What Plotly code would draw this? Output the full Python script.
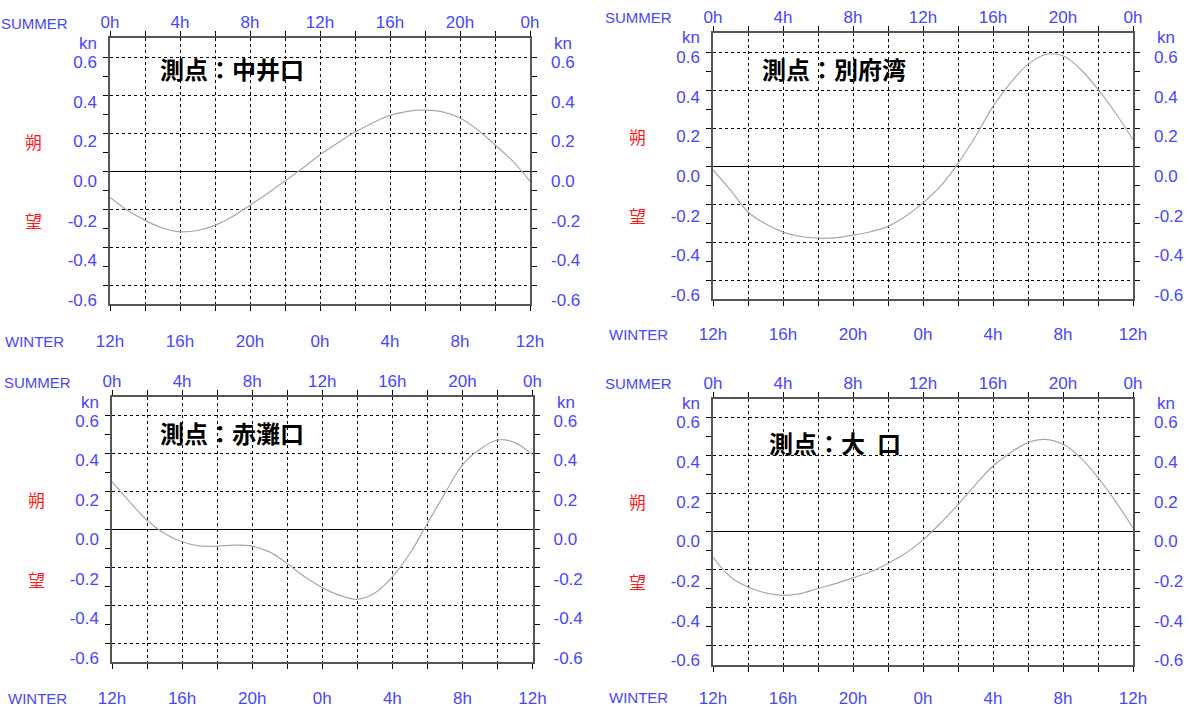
import plotly.graph_objects as go

W, H = 1189, 711

# Hourly current speed (kn), hour 0 = SUMMER 0h / WINTER 12h
hours = list(range(25))
nakaiguchi = [-0.14, -0.207, -0.26, -0.30, -0.32, -0.313, -0.286, -0.24, -0.18,
              -0.118, -0.053, 0.014, 0.085, 0.147, 0.205, 0.253, 0.293, 0.314,
              0.32, 0.311, 0.279, 0.217, 0.138, 0.053, -0.053]
beppuwan = [-0.021, -0.127, -0.242, -0.304, -0.348, -0.371, -0.38, -0.378, -0.364,
            -0.346, -0.318, -0.265, -0.194, -0.106, 0.014, 0.155, 0.314, 0.438,
            0.535, 0.587, 0.58, 0.509, 0.403, 0.279, 0.138]
akanadaguchi = [0.253, 0.147, 0.049, -0.021, -0.065, -0.087, -0.088, -0.083, -0.088,
                -0.118, -0.18, -0.25, -0.307, -0.348, -0.369, -0.336, -0.25, -0.127,
                0.032, 0.191, 0.341, 0.424, 0.473, 0.459, 0.394]
oguchi = [-0.136, -0.239, -0.292, -0.323, -0.336, -0.327, -0.30, -0.274, -0.244,
          -0.212, -0.168, -0.115, -0.044, 0.044, 0.141, 0.247, 0.345, 0.415,
          0.468, 0.485, 0.459, 0.389, 0.283, 0.159, 0.018]

station_names = ["測点：中井口", "測点：別府湾", "測点：赤灘口", "測点：大\u2002口"]

hour_grid = list(range(0, 25, 2))
summer_ticks = ["0h", "", "4h", "", "8h", "", "12h", "", "16h", "", "20h", "", "0h"]
winter_ticks = ["12h", "", "16h", "", "20h", "", "0h", "", "4h", "", "8h", "", "12h"]
speed_ticks = [-0.6, -0.4, -0.2, 0.0, 0.2, 0.4, 0.6]
speed_minor = [-0.5, -0.3, -0.1, 0.1, 0.3, 0.5]
speed_labels = [f"{v:.1f}" for v in speed_ticks]

BLUE = "#4646ff"
RED = "#ff1a1a"
LATIN = "Liberation Sans, Arial, sans-serif"
NARROW = "Liberation Sans Narrow, Liberation Sans, sans-serif"
CJK = "Noto Sans CJK JP, sans-serif"

# label axis spans a slightly different range so the numbers sit where the
# chart prints them (a little below each grid line)
LABEL_RANGE = [-0.620, 0.721]

# plot boxes in pixels: left, right, top, bottom ; title offset from box corner ;
# distance from bottom edge to the WINTER hour row
panels = [
    dict(series=nakaiguchi, box=(110, 530, 38, 304), title=(47.7, 30.5), gap=37),
    dict(series=beppuwan, box=(713, 1133, 33, 299), title=(46.7, 35.5), gap=35),
    dict(series=akanadaguchi, box=(112, 532.5, 397, 662), title=(45.7, 35.5), gap=36),
    dict(series=oguchi, box=(713, 1133, 398.5, 664.5), title=(54, 44), gap=33),
]


def aid(letter, n):
    return letter if n == 1 else f"{letter}{n}"


def akey(letter, n):
    return f"{letter}axis" if n == 1 else f"{letter}axis{n}"


fig = go.Figure()
layout = dict(
    width=W, height=H, autosize=False,
    margin=dict(l=0, r=0, t=0, b=0, autoexpand=False),
    paper_bgcolor="white", plot_bgcolor="white",
    showlegend=False,
)
annotations = []

for i, (p, name) in enumerate(zip(panels, station_names)):
    l, r, t, b = p["box"]
    nx_main, nx_top = 2 * i + 1, 2 * i + 2
    ny_main, ny_left, ny_right = 3 * i + 1, 3 * i + 2, 3 * i + 3
    xm, xt = aid("x", nx_main), aid("x", nx_top)
    ym, yl, yr = aid("y", ny_main), aid("y", ny_left), aid("y", ny_right)

    tickfont = dict(family=LATIN, size=17, color=BLUE)

    layout[akey("x", nx_main)] = dict(
        domain=[l / W, r / W], anchor=ym, range=[0, 24],
        tickmode="array", tickvals=hour_grid, ticktext=winter_ticks,
        ticks="outside", ticklen=5, tickcolor="#000", tickwidth=1,
        showline=True, linecolor="#555", linewidth=2,
        showgrid=True, gridcolor="#000", gridwidth=1, griddash="3px,3px",
        zeroline=False, tickfont=tickfont, ticklabelstandoff=p["gap"] - 21,
        automargin=False, fixedrange=True,
    )
    layout[akey("x", nx_top)] = dict(
        overlaying=xm, anchor=ym, side="top", range=[0, 24],
        tickmode="array", tickvals=hour_grid, ticktext=summer_ticks,
        ticks="outside", ticklen=5, tickcolor="#000", tickwidth=1,
        showline=True, linecolor="#555", linewidth=2,
        showgrid=False, zeroline=False, tickfont=tickfont,
        ticklabelstandoff=-4, automargin=False, fixedrange=True,
    )
    layout[akey("y", ny_main)] = dict(
        domain=[1 - b / H, 1 - t / H], anchor=xm, range=[-0.7, 0.7],
        tickmode="array", tickvals=speed_ticks, showticklabels=False,
        ticks="outside", ticklen=5, tickcolor="#000", tickwidth=1,
        mirror="allticks",
        showline=True, linecolor="#555", linewidth=2,
        showgrid=True, gridcolor="#000", gridwidth=1, griddash="3px,3px",
        zeroline=True, zerolinecolor="#000", zerolinewidth=1,
        minor=dict(tickvals=speed_minor, ticks="outside", ticklen=5,
                   tickcolor="#000", tickwidth=1, showgrid=False),
        automargin=False, fixedrange=True,
    )
    for key, side, standoff in ((ny_left, "left", 12), (ny_right, "right", 20)):
        layout[akey("y", key)] = dict(
            overlaying=ym, anchor=xm, side=side, range=LABEL_RANGE,
            tickmode="array", tickvals=speed_ticks, ticktext=speed_labels,
            ticks="", showline=False, showgrid=False, zeroline=False,
            tickfont=tickfont, ticklabelstandoff=standoff,
            automargin=False, fixedrange=True,
        )

    fig.add_trace(go.Scatter(
        x=hours, y=p["series"], xaxis=xm, yaxis=ym, mode="lines",
        line=dict(color="#a8a8a8", width=1.2, shape="spline", smoothing=1.0),
        hoverinfo="skip",
    ))
    for xa, ya in ((xt, ym), (xm, yl), (xm, yr)):
        fig.add_trace(go.Scatter(x=[], y=[], xaxis=xa, yaxis=ya,
                                 mode="lines", hoverinfo="skip"))

    xd, yd = f"{xm} domain", f"{ym} domain"

    def note(text, x, y, xs, ys, font, xref=xd, yref=yd, xanchor="center"):
        annotations.append(dict(
            text=text, x=x, y=y, xref=xref, yref=yref, xshift=xs, yshift=ys,
            showarrow=False, xanchor=xanchor, yanchor="middle", font=font,
        ))

    note("SUMMER", 0, 1, -75, 15, dict(family=NARROW, size=15, color=BLUE))
    note("WINTER", 0, 0, -75, -p["gap"], dict(family=NARROW, size=15, color=BLUE))
    note("kn", 0, 1, -22, -5, dict(family=LATIN, size=17, color=BLUE))
    note("kn", 1, 1, 33, -5, dict(family=LATIN, size=17, color=BLUE))
    note("朔", 0, 0.2, -76, 0, dict(family=CJK, size=17, color=RED), yref=yl)
    note("望", 0, -0.2, -76, 0, dict(family=CJK, size=17, color=RED), yref=yl)
    tdx, tdy = p["title"]
    note(f"<b>{name}</b>", 0, 1, tdx, -tdy, dict(family=CJK, size=24, color="#000"),
         xanchor="left")

layout["annotations"] = annotations
fig.update_layout(**layout)
fig.write_html("out.html")
